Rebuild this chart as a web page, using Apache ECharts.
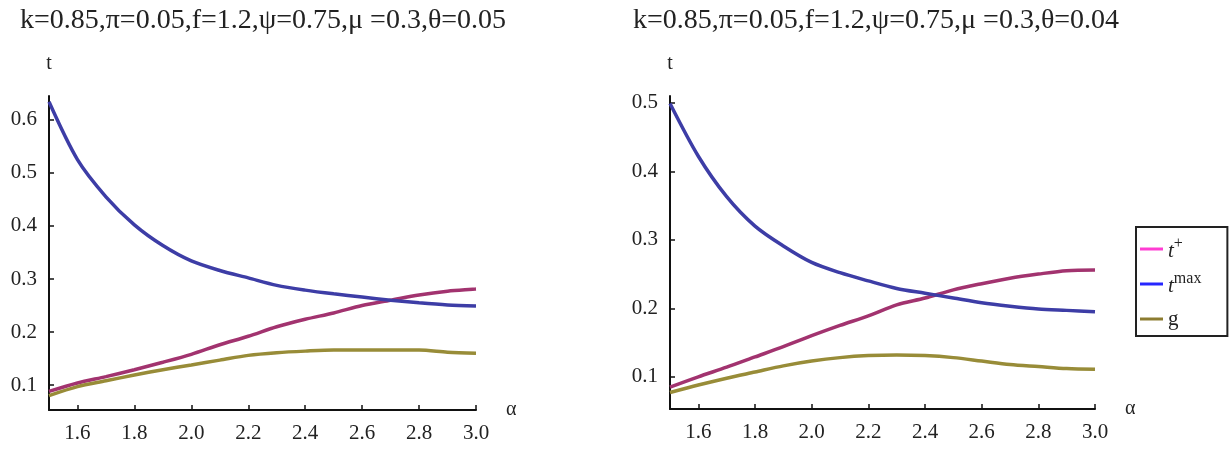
<!DOCTYPE html>
<html>
<head>
<meta charset="utf-8">
<script src="https://cdn.jsdelivr.net/npm/echarts@6/dist/echarts.min.js"></script>
<style>html,body{margin:0;padding:0;background:#fff}#c{width:1229px;height:450px}</style>
</head>
<body>
<div id="c"></div>
<script>
var alpha = [1.5,1.6,1.7,1.8,1.9,2.0,2.1,2.2,2.3,2.4,2.5,2.6,2.7,2.8,2.9,3.0];
// left panel (theta = 0.05)
var tPlusL = [0.088,0.104,0.116,0.129,0.143,0.158,0.176,0.192,0.210,0.224,0.236,0.250,0.260,0.270,0.277,0.281];
var tMaxL  = [0.634,0.525,0.455,0.402,0.363,0.334,0.316,0.302,0.288,0.279,0.272,0.266,0.260,0.255,0.251,0.249];
var gL     = [0.080,0.097,0.108,0.119,0.129,0.138,0.147,0.156,0.161,0.164,0.166,0.166,0.166,0.166,0.162,0.160];
// right panel (theta = 0.04)
var tPlusR = [0.085,0.100,0.114,0.129,0.144,0.160,0.175,0.189,0.205,0.215,0.227,0.236,0.244,0.250,0.255,0.256];
var tMaxR  = [0.499,0.422,0.363,0.320,0.291,0.267,0.252,0.240,0.229,0.222,0.215,0.208,0.203,0.199,0.197,0.195];
var gR     = [0.077,0.088,0.098,0.107,0.116,0.123,0.128,0.131,0.132,0.131,0.128,0.123,0.118,0.115,0.112,0.111];

var xTicks = [1.6,1.8,2.0,2.2,2.4,2.6,2.8,3.0];
var yTicksL = [0.1,0.2,0.3,0.4,0.5,0.6];
var yTicksR = [0.1,0.2,0.3,0.4,0.5];
var titles = ['k=0.85,\u03c0=0.05,f=1.2,\u03c8=0.75,\u03bc =0.3,\u03b8=0.05',
              'k=0.85,\u03c0=0.05,f=1.2,\u03c8=0.75,\u03bc =0.3,\u03b8=0.04'];
var names = ['t+','tmax','g'];

var FONT = 'Liberation Serif';
var seriesColors = ['#a2336f','#3d3da6','#988c38'];
var legendColors = ['#ff3cd2','#2626ff','#8c7c30'];

function pairs(arr){ return alpha.map(function(a,i){ return [a, arr[i]]; }); }

function xAxis(gi){
  return {
    type:'value', gridIndex:gi, min:1.5, max:3.0,
    name:'\u03b1', nameLocation:'end', nameGap:30,
    nameTextStyle:{fontFamily:FONT,fontSize:20,color:'#222'},
    axisLine:{show:true,onZero:false,lineStyle:{color:'#111',width:2}},
    axisTick:{show:true,inside:true,length:5,customValues:xTicks,lineStyle:{color:'#111',width:1.5}},
    axisLabel:{customValues:xTicks,margin:13,fontFamily:FONT,fontSize:21,color:'#222',
      formatter:function(v){return v.toFixed(1);}},
    splitLine:{show:false}
  };
}
function yAxis(gi,max,ticks){
  return {
    type:'value', gridIndex:gi, min:0.053, max:max,
    name:'t', nameLocation:'end', nameGap:22,
    nameTextStyle:{fontFamily:FONT,fontSize:20,color:'#222',align:'center'},
    axisLine:{show:true,onZero:false,lineStyle:{color:'#111',width:2}},
    axisTick:{show:true,inside:true,length:5,customValues:ticks,lineStyle:{color:'#111',width:1.5}},
    axisLabel:{customValues:ticks,margin:12,fontFamily:FONT,fontSize:21,color:'#222',
      formatter:function(v){return v.toFixed(1);}},
    splitLine:{show:false}
  };
}
function line(name,gi,arr,ci){
  return {name:name,type:'line',xAxisIndex:gi,yAxisIndex:gi,data:pairs(arr),
    symbol:'none',smooth:0.3,lineStyle:{width:3.5,color:seriesColors[ci]},itemStyle:{color:seriesColors[ci]}};
}

var chart = echarts.init(document.getElementById('c'),null,{renderer:'canvas'});
chart.setOption({
  animation:false,
  title:[
    {text:titles[0],left:258,top:2,textAlign:'center',textStyle:{fontFamily:FONT,fontSize:28,fontWeight:'normal',color:'#222'}},
    {text:titles[1],left:871,top:2,textAlign:'center',textStyle:{fontFamily:FONT,fontSize:28,fontWeight:'normal',color:'#222'}}
  ],
  grid:[
    {left:49,top:96,width:427,height:314},
    {left:670,top:96,width:425,height:313}
  ],
  xAxis:[xAxis(0),xAxis(1)],
  yAxis:[yAxis(0,0.645,yTicksL),yAxis(1,0.51,yTicksR)],
  legend:{
    orient:'vertical',left:1136,top:227,
    padding:[9,26,4,4],itemGap:9,itemWidth:23,itemHeight:3,
    borderColor:'#222',borderWidth:2,backgroundColor:'#fff',
    data:names.map(function(n,i){return {name:n,icon:'rect',itemStyle:{color:legendColors[i]}};}),
    formatter:function(n){
      if(n==='t+') return '{i|t}{s|+}';
      if(n==='tmax') return '{i|t}{s|max}';
      return '{g|g}';
    },
    textStyle:{fontFamily:FONT,fontSize:20,color:'#222',lineHeight:26,
      rich:{
        i:{fontFamily:FONT,fontStyle:'italic',fontSize:21,color:'#222',lineHeight:26,verticalAlign:'bottom'},
        s:{fontFamily:FONT,fontSize:16,color:'#222',lineHeight:26,verticalAlign:'top',padding:[0,0,10,0]},
        g:{fontFamily:FONT,fontSize:21,color:'#222',lineHeight:26}
      }
    }
  },
  series:[
    line('t+',0,tPlusL,0), line('tmax',0,tMaxL,1), line('g',0,gL,2),
    line('t+',1,tPlusR,0), line('tmax',1,tMaxR,1), line('g',1,gR,2)
  ]
});
</script>
</body>
</html>
